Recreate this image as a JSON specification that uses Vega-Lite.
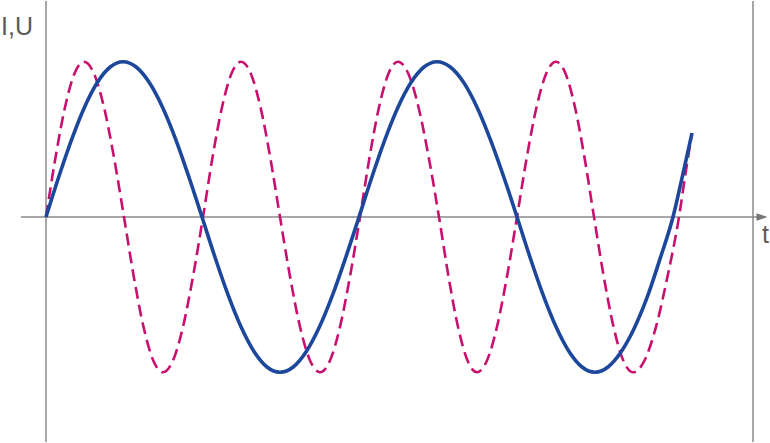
{
  "$schema": "https://vega.github.io/schema/vega-lite/v6.json",
  "width": 770,
  "height": 443,
  "padding": 0,
  "autosize": {"type": "fit", "contains": "padding"},
  "background": "white",
  "config": {"view": {"stroke": null}},
  "data": {"values": [{}]},
  "datasets": {
    "current": [
      {"t": 0, "v": 0}, {"t": 12.8, "v": 0.259}, {"t": 25.7, "v": 0.5}, {"t": 38.5, "v": 0.707}, {"t": 51.3, "v": 0.866}, {"t": 64.2, "v": 0.966}, {"t": 77, "v": 1},
      {"t": 90.2, "v": 0.966}, {"t": 103.3, "v": 0.866}, {"t": 116.5, "v": 0.707}, {"t": 129.7, "v": 0.5}, {"t": 142.8, "v": 0.259}, {"t": 156, "v": 0},
      {"t": 169, "v": -0.259}, {"t": 182, "v": -0.5}, {"t": 195, "v": -0.707}, {"t": 208, "v": -0.866}, {"t": 221, "v": -0.966}, {"t": 234, "v": -1},
      {"t": 247.2, "v": -0.966}, {"t": 260.3, "v": -0.866}, {"t": 273.5, "v": -0.707}, {"t": 286.7, "v": -0.5}, {"t": 299.8, "v": -0.259}, {"t": 313, "v": 0},
      {"t": 326, "v": 0.259}, {"t": 339, "v": 0.5}, {"t": 352, "v": 0.707}, {"t": 365, "v": 0.866}, {"t": 378, "v": 0.966}, {"t": 391, "v": 1},
      {"t": 404.3, "v": 0.966}, {"t": 417.7, "v": 0.866}, {"t": 431, "v": 0.707}, {"t": 444.3, "v": 0.5}, {"t": 457.7, "v": 0.259}, {"t": 471, "v": 0},
      {"t": 484, "v": -0.259}, {"t": 497, "v": -0.5}, {"t": 510, "v": -0.707}, {"t": 523, "v": -0.866}, {"t": 536, "v": -0.966}, {"t": 549, "v": -1},
      {"t": 562, "v": -0.966}, {"t": 575, "v": -0.87}, {"t": 588, "v": -0.72}, {"t": 601, "v": -0.52}, {"t": 614, "v": -0.27}, {"t": 627, "v": 0},
      {"t": 636, "v": 0.25}, {"t": 646, "v": 0.54}
    ],
    "voltage": [
      {"t": 0, "v": 0}, {"t": 9.5, "v": 0.383}, {"t": 19, "v": 0.707}, {"t": 28.5, "v": 0.924}, {"t": 38, "v": 1},
      {"t": 48, "v": 0.924}, {"t": 58, "v": 0.707}, {"t": 68, "v": 0.383}, {"t": 78, "v": 0},
      {"t": 87.75, "v": -0.383}, {"t": 97.5, "v": -0.707}, {"t": 107.25, "v": -0.924}, {"t": 117, "v": -1},
      {"t": 127, "v": -0.924}, {"t": 137, "v": -0.707}, {"t": 147, "v": -0.383}, {"t": 157, "v": 0},
      {"t": 166.5, "v": 0.383}, {"t": 176, "v": 0.707}, {"t": 185.5, "v": 0.924}, {"t": 195, "v": 1},
      {"t": 204.75, "v": 0.924}, {"t": 214.5, "v": 0.707}, {"t": 224.25, "v": 0.383}, {"t": 234, "v": 0},
      {"t": 244, "v": -0.383}, {"t": 254, "v": -0.707}, {"t": 264, "v": -0.924}, {"t": 274, "v": -1},
      {"t": 284, "v": -0.924}, {"t": 294, "v": -0.707}, {"t": 304, "v": -0.383}, {"t": 314, "v": 0},
      {"t": 323.5, "v": 0.383}, {"t": 333, "v": 0.707}, {"t": 342.5, "v": 0.924}, {"t": 352, "v": 1},
      {"t": 362.25, "v": 0.924}, {"t": 372.5, "v": 0.707}, {"t": 382.75, "v": 0.383}, {"t": 393, "v": 0},
      {"t": 402.5, "v": -0.383}, {"t": 412, "v": -0.707}, {"t": 421.5, "v": -0.924}, {"t": 431, "v": -1},
      {"t": 441, "v": -0.924}, {"t": 451, "v": -0.707}, {"t": 461, "v": -0.383}, {"t": 471, "v": 0},
      {"t": 480.75, "v": 0.383}, {"t": 490.5, "v": 0.707}, {"t": 500.25, "v": 0.924}, {"t": 510, "v": 1},
      {"t": 519.5, "v": 0.924}, {"t": 529, "v": 0.707}, {"t": 538.5, "v": 0.383}, {"t": 548, "v": 0},
      {"t": 557.75, "v": -0.383}, {"t": 567.5, "v": -0.707}, {"t": 577.25, "v": -0.924}, {"t": 587, "v": -1},
      {"t": 598.5, "v": -0.924}, {"t": 610, "v": -0.707}, {"t": 621.5, "v": -0.383}, {"t": 633, "v": 0},
      {"t": 639.5, "v": 0.28}, {"t": 646, "v": 0.54}
    ]
  },
  "layer": [
    {
      "mark": {"type": "rule", "color": "#8a8a8a", "strokeWidth": 1.5},
      "encoding": {
        "x": {"datum": 0, "type": "quantitative", "scale": {"domain": [-46, 724], "nice": false, "zero": false}, "axis": null}
      }
    },
    {
      "mark": {"type": "rule", "color": "#8a8a8a", "strokeWidth": 1.5},
      "encoding": {"x": {"datum": 707, "type": "quantitative"}}
    },
    {
      "mark": {"type": "rule", "color": "#8a8a8a", "strokeWidth": 1.5},
      "encoding": {
        "x": {"datum": -25, "type": "quantitative"},
        "x2": {"datum": 711},
        "y": {"datum": 0, "type": "quantitative", "scale": {"domain": [-1.449, 1.391], "nice": false, "zero": false}, "axis": null}
      }
    },
    {
      "mark": {"type": "point", "shape": "M-1,-0.7L1,0L-1,0.7Z", "filled": true, "color": "#777777", "opacity": 1, "size": 121},
      "encoding": {
        "x": {"datum": 716, "type": "quantitative"},
        "y": {"datum": 0, "type": "quantitative"}
      }
    },
    {
      "data": {"name": "voltage"},
      "mark": {"type": "line", "color": "#c8106e", "strokeWidth": 2.6, "strokeDash": [12, 6], "interpolate": "monotone"},
      "encoding": {
        "x": {"field": "t", "type": "quantitative"},
        "y": {"field": "v", "type": "quantitative"}
      }
    },
    {
      "data": {"name": "current"},
      "mark": {"type": "line", "color": "#1c479b", "strokeWidth": 3.6, "interpolate": "monotone"},
      "encoding": {
        "x": {"field": "t", "type": "quantitative"},
        "y": {"field": "v", "type": "quantitative"}
      }
    },
    {
      "mark": {"type": "text", "text": "I,U", "font": "Liberation Sans", "fontSize": 25, "color": "#5a5a5a", "align": "left", "baseline": "alphabetic"},
      "encoding": {
        "x": {"datum": -45, "type": "quantitative"},
        "y": {"datum": 1.17, "type": "quantitative"}
      }
    },
    {
      "mark": {"type": "text", "text": "t", "font": "Liberation Sans", "fontSize": 25, "color": "#5a5a5a", "align": "left", "baseline": "alphabetic"},
      "encoding": {
        "x": {"datum": 716, "type": "quantitative"},
        "y": {"datum": -0.167, "type": "quantitative"}
      }
    }
  ]
}
